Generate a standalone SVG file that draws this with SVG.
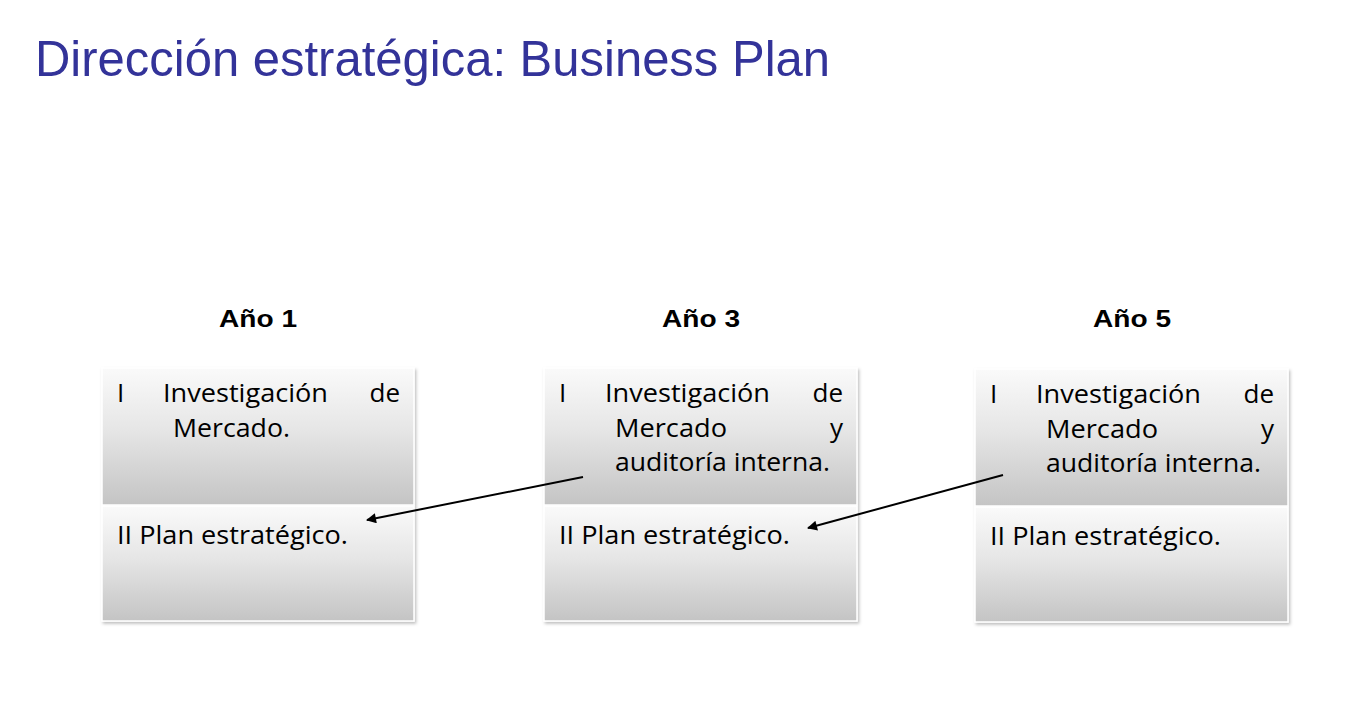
<svg xmlns="http://www.w3.org/2000/svg" width="1369" height="706" viewBox="0 0 1369 706">
<defs>
<linearGradient id="g" x1="0" y1="0" x2="0" y2="1">
<stop offset="0" stop-color="#fafafa"/>
<stop offset="0.45" stop-color="#e6e6e6"/>
<stop offset="1" stop-color="#c4c4c4"/>
</linearGradient>
<filter id="sh" x="-10%" y="-10%" width="120%" height="120%">
<feDropShadow dx="1.5" dy="2" stdDeviation="1.5" flood-color="#000" flood-opacity="0.25"/>
</filter>
<marker id="ah" viewBox="0 0 10 10" refX="9" refY="5" markerWidth="12" markerHeight="10" orient="auto" markerUnits="userSpaceOnUse">
<path d="M0,0 L10,5 L0,10 z" fill="#000"/>
</marker>
<style>
.title{font-family:"Liberation Sans",Arial,sans-serif;font-size:50px;fill:#333399}
.yr{font-family:"Liberation Sans",Arial,sans-serif;font-size:23px;font-weight:bold;fill:#000;text-anchor:middle}
.t{font-family:"Open Sans","Noto Sans",sans-serif;font-size:26px;fill:#000}
.e{text-anchor:end}
.cell{fill:url(#g);stroke:#fff;stroke-width:1.5}
.conn{stroke:#000;stroke-width:2;fill:none}
</style>
</defs>
<rect width="1369" height="706" fill="#fff"/>
<text class="title" x="35" y="76" textLength="795" lengthAdjust="spacingAndGlyphs">Dirección estratégica: Business Plan</text>

<g id="year1">
<text class="yr" x="258" y="327" textLength="78" lengthAdjust="spacingAndGlyphs">Año 1</text>
<g filter="url(#sh)">
<rect class="cell" x="102" y="368" width="312" height="137"/>
<rect class="cell" x="102" y="506" width="312" height="115"/>
</g>
<text class="t" x="117" y="402">I</text>
<text class="t" x="163" y="402" textLength="165" lengthAdjust="spacingAndGlyphs">Investigación</text>
<text class="t e" x="400" y="402">de</text>
<text class="t" x="173" y="437" textLength="117" lengthAdjust="spacingAndGlyphs">Mercado.</text>
<text class="t" x="117" y="544" textLength="231" lengthAdjust="spacingAndGlyphs">II Plan estratégico.</text>
</g>

<g id="year3">
<text class="yr" x="701" y="327" textLength="78" lengthAdjust="spacingAndGlyphs">Año 3</text>
<g filter="url(#sh)">
<rect class="cell" x="544" y="368" width="313" height="137"/>
<rect class="cell" x="544" y="506" width="313" height="115"/>
</g>
<text class="t" x="559" y="402">I</text>
<text class="t" x="605" y="402" textLength="165" lengthAdjust="spacingAndGlyphs">Investigación</text>
<text class="t e" x="843" y="402">de</text>
<text class="t" x="615" y="437" textLength="112" lengthAdjust="spacingAndGlyphs">Mercado</text>
<text class="t e" x="843" y="437">y</text>
<text class="t" x="615" y="471" textLength="215" lengthAdjust="spacingAndGlyphs">auditoría interna.</text>
<text class="t" x="559" y="544" textLength="231" lengthAdjust="spacingAndGlyphs">II Plan estratégico.</text>
</g>

<g id="year5">
<text class="yr" x="1132" y="327" textLength="78" lengthAdjust="spacingAndGlyphs">Año 5</text>
<g filter="url(#sh)">
<rect class="cell" x="975" y="369" width="313" height="137"/>
<rect class="cell" x="975" y="507" width="313" height="115"/>
</g>
<text class="t" x="990" y="403">I</text>
<text class="t" x="1036" y="403" textLength="165" lengthAdjust="spacingAndGlyphs">Investigación</text>
<text class="t e" x="1274" y="403">de</text>
<text class="t" x="1046" y="438" textLength="112" lengthAdjust="spacingAndGlyphs">Mercado</text>
<text class="t e" x="1274" y="438">y</text>
<text class="t" x="1046" y="472" textLength="215" lengthAdjust="spacingAndGlyphs">auditoría interna.</text>
<text class="t" x="990" y="545" textLength="231" lengthAdjust="spacingAndGlyphs">II Plan estratégico.</text>
</g>

<g id="connectors">
<line class="conn" x1="583" y1="477" x2="367" y2="520" marker-end="url(#ah)"/>
<line class="conn" x1="1003" y1="475" x2="808" y2="528" marker-end="url(#ah)"/>
</g>
</svg>
